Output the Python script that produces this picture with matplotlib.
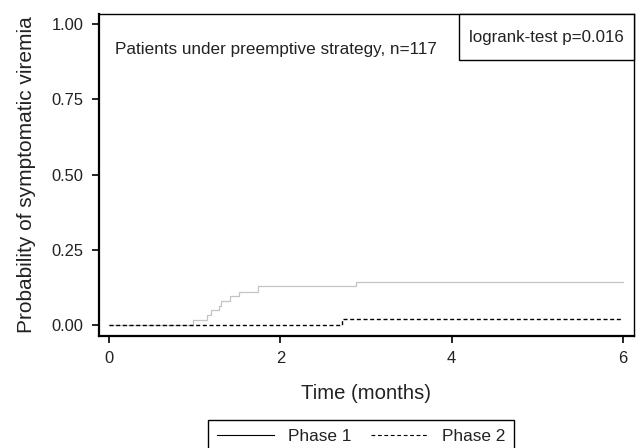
import matplotlib
matplotlib.use("Agg")
import matplotlib.pyplot as plt
from matplotlib.lines import Line2D
from matplotlib.patches import Rectangle

plt.rcParams["font.family"] = ["Liberation Sans", "DejaVu Sans"]

# --- data (Kaplan-Meier failure curves) ---
phase1_time = [0, 0.985, 1.148, 1.188, 1.289, 1.312, 1.414, 1.515, 1.744, 2.889, 6.0]
phase1_prob = [0, 0.0166, 0.033, 0.050, 0.065, 0.081, 0.097, 0.112, 0.130, 0.145, 0.145]
phase2_time = [0, 2.726, 6.0]
phase2_prob = [0, 0.020, 0.020]

x_ticks = [0, 2, 4, 6]
y_ticks = [0.00, 0.25, 0.50, 0.75, 1.00]
y_tick_labels = ["0.00", "0.25", "0.50", "0.75", "1.00"]

series_names = ["Phase 1", "Phase 2"]
note_text = "Patients under preemptive strategy, n=117"
test_text = "logrank-test p=0.016"

fig = plt.figure(figsize=(6.38, 4.48), dpi=100)
ax = fig.add_axes([0.1552, 0.25, 0.8385, 0.71875])

ax.step(phase1_time, phase1_prob, where="post", color="#c4c4c4", lw=0.9)
ax.step(phase2_time, phase2_prob, where="post", color="black", lw=1.0,
        dashes=(2.9, 1.9))

ax.set_xlim(-0.117, 6.13)
ax.set_ylim(-0.0355, 1.033)
ax.set_xticks(x_ticks)
ax.set_yticks(y_ticks)
ax.set_yticklabels(y_tick_labels)
ax.tick_params(direction="out", length=5, width=1.2, labelsize=11.9,
               pad=6, colors="black", labelcolor="#222222")

for side in ["left", "bottom"]:
    ax.spines[side].set_linewidth(1.6)
for side in ["top", "right"]:
    ax.spines[side].set_linewidth(1.0)

ax.set_xlabel("Time (months)", fontsize=14.6, labelpad=12.5, color="#222222")
ax.set_ylabel("Probability of symptomatic viremia", fontsize=15.0,
              labelpad=11, color="#222222")

# in-plot note
ax.text(0.03, 0.89, note_text, transform=ax.transAxes, fontsize=12.3,
        va="center", ha="left", color="#222222")

# logrank box in the top-right corner
ax.add_patch(Rectangle((0.673, 0.857), 0.327, 0.143, transform=ax.transAxes,
                       facecolor="white", edgecolor="black", lw=1.0,
                       clip_on=False, zorder=3))
ax.text(0.8365, 0.9285, test_text, transform=ax.transAxes, fontsize=12.2,
        va="center", ha="center", color="#222222", zorder=4)

# legend below the plot; its box runs off the bottom edge as in the original
handles = [Line2D([], [], color="black", lw=0.8),
           Line2D([], [], color="black", lw=0.8, dashes=(3.4, 2.4))]
leg = fig.legend(handles, series_names, loc="upper center",
                 bbox_to_anchor=(0.566, 0.0555), ncol=2, fontsize=12.4,
                 frameon=False, borderpad=0.35, handlelength=3.3,
                 handletextpad=0.8, columnspacing=1.15, borderaxespad=0)
for t in leg.get_texts():
    t.set_color("#222222")
fig.patches.append(Rectangle((208 / 638, -0.05), 306 / 638, 0.0625 + 0.05,
                             transform=fig.transFigure, fill=False,
                             edgecolor="black", lw=1.0))

fig.savefig("out.png", dpi=100)
